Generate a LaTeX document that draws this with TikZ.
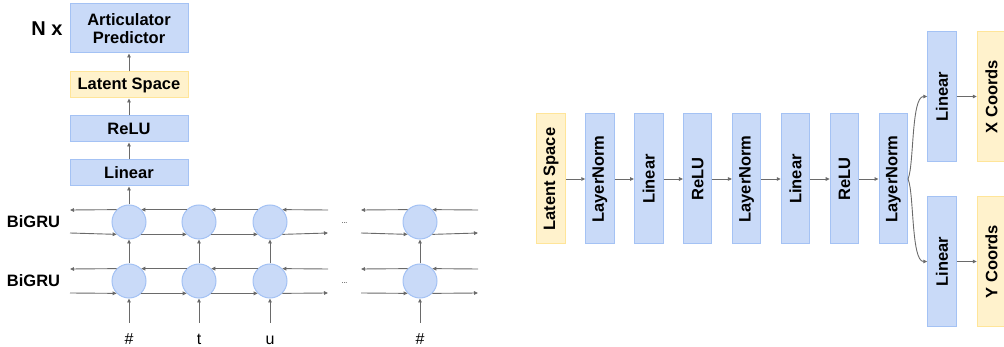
\documentclass[tikz,border=0pt]{standalone}
\usepackage{fontspec}
\setmainfont{Liberation Sans}
\usetikzlibrary{arrows.meta}
\definecolor{bfill}{HTML}{C9DAF8}
\definecolor{bline}{HTML}{A4C2F4}
\definecolor{yfill}{HTML}{FFF2CC}
\definecolor{yline}{HTML}{FFE599}
\definecolor{aline}{HTML}{6A6A6A}
\begin{document}
\begin{tikzpicture}[x=1pt,y=-1pt,
  lbl/.style={font=\fontsize{16.5}{18.5}\selectfont\bfseries},
  bbox/.style={draw=bline, fill=bfill, line width=1pt, inner sep=0pt, lbl},
  ybox/.style={draw=yline, fill=yfill, line width=1pt, inner sep=0pt, lbl},
  hbox/.style={minimum width=118pt, minimum height=26pt},
  vbox/.style={minimum width=28.5pt, minimum height=130pt},
  cell/.style={circle, draw=bline, fill=bfill, line width=1pt, minimum size=34pt, inner sep=0pt},
  arr/.style={draw=aline, line width=0.9pt, -{Triangle[length=4pt,width=3.6pt]}},
  inp/.style={font=\fontsize{16}{18}\selectfont, inner xsep=0pt, inner ysep=9.75pt, text height=11.5pt, text depth=0pt},
  dots/.style={font=\fontsize{7}{8}\selectfont, inner sep=0pt}
]
\useasboundingbox (0,0) rectangle (1004,347);

% ---------- left part ----------
\node[lbl, font=\fontsize{20}{24}\selectfont\bfseries] (nx) at (47,29) {N x};
\node[bbox, minimum width=118pt, minimum height=49pt, align=center] (ap) at (129,28.5) {Articulator\\Predictor};
\node[ybox, hbox] (lsl) at (129,85) {Latent Space};
\node[bbox, hbox] (relu) at (129,129) {ReLU};
\node[bbox, hbox] (lin) at (129,173) {Linear};

\node[lbl] (g1) at (33.5,222) {BiGRU};
\node[lbl] (g2) at (33.5,281) {BiGRU};

% cells
\foreach \i/\x in {1/129,2/199,3/270,4/420}{
  \node[cell] (t\i) at (\x,222) {};
  \node[cell] (b\i) at (\x,281) {};
}
\node[dots] (d1) at (344.5,223) {...};
\node[dots] (d2) at (344.5,283) {...};

% free line ends
\coordinate (tlu) at (70,210);  \coordinate (tll) at (70,233);
\coordinate (tru) at (328,210); \coordinate (trl) at (328,233);
\coordinate (tsu) at (361,210); \coordinate (tsl) at (361,233);
\coordinate (teu) at (478,210); \coordinate (tel) at (478,233);
\coordinate (blu) at (70,269);  \coordinate (bll) at (70,293);
\coordinate (bru) at (328,269); \coordinate (brl) at (328,293);
\coordinate (bsu) at (361,269); \coordinate (bsl) at (361,293);
\coordinate (beu) at (478,269); \coordinate (bel) at (478,293);

\foreach \r in {t,b}{
  % leftward upper line
  \draw[arr] (\r ru) -- (\r 3.45);
  \draw[arr] (\r 3.135) -- (\r 2.45);
  \draw[arr] (\r 2.135) -- (\r 1.45);
  \draw[arr] (\r 1.135) -- (\r lu);
  \draw[arr] (\r eu) -- (\r 4.45);
  \draw[arr] (\r 4.135) -- (\r su);
  % rightward lower line
  \draw[arr] (\r ll) -- (\r 1.-135);
  \draw[arr] (\r 1.-45) -- (\r 2.-135);
  \draw[arr] (\r 2.-45) -- (\r 3.-135);
  \draw[arr] (\r 3.-45) -- (\r rl);
  \draw[arr] (\r sl) -- (\r 4.-135);
  \draw[arr] (\r 4.-45) -- (\r el);
}

% inputs
\node[inp] (in1) at (129,338.5) {\#};
\node[inp] (in2) at (199,338.5) {t};
\node[inp] (in3) at (270,338.5) {u};
\node[inp] (in4) at (420,338.5) {\#};
\foreach \i in {1,2,3,4}{
  \draw[arr] (in\i) -- (b\i);
  \draw[arr] (b\i) -- (t\i);
}
\draw[arr] (t1) -- (lin);
\draw[arr] (lin) -- (relu);
\draw[arr] (relu) -- (lsl);
\draw[arr] (lsl) -- (ap);

% ---------- right part ----------
\node[ybox, vbox] (ls)  at (551,179)   {\rotatebox{90}{Latent Space}};
\node[bbox, vbox] (ln1) at (600,179)   {\rotatebox{90}{LayerNorm}};
\node[bbox, vbox] (l1)  at (648.8,179) {\rotatebox{90}{Linear}};
\node[bbox, vbox] (r1)  at (697.7,179) {\rotatebox{90}{ReLU}};
\node[bbox, vbox] (ln2) at (746.6,179) {\rotatebox{90}{LayerNorm}};
\node[bbox, vbox] (l2)  at (795.5,179) {\rotatebox{90}{Linear}};
\node[bbox, vbox] (r2)  at (844.4,179) {\rotatebox{90}{ReLU}};
\node[bbox, vbox] (ln3) at (893.3,179) {\rotatebox{90}{LayerNorm}};
\node[bbox, vbox] (lx)  at (942,96.5)  {\rotatebox{90}{Linear}};
\node[bbox, vbox] (ly)  at (942,261.5) {\rotatebox{90}{Linear}};
\node[ybox, vbox] (xc)  at (991.5,96.5)  {\rotatebox{90}{X Coords}};
\node[ybox, vbox] (yc)  at (991.5,261.5) {\rotatebox{90}{Y Coords}};

\draw[arr] (ls) -- (ln1);
\draw[arr] (ln1) -- (l1);
\draw[arr] (l1) -- (r1);
\draw[arr] (r1) -- (ln2);
\draw[arr] (ln2) -- (l2);
\draw[arr] (l2) -- (r2);
\draw[arr] (r2) -- (ln3);
\draw[arr] (ln3.east) .. controls +(6,-14) and +(-16,0) .. (lx.west);
\draw[arr] (ln3.east) .. controls +(6,14) and +(-16,0) .. (ly.west);
\draw[arr] (lx) -- (xc);
\draw[arr] (ly) -- (yc);
\end{tikzpicture}
\end{document}
